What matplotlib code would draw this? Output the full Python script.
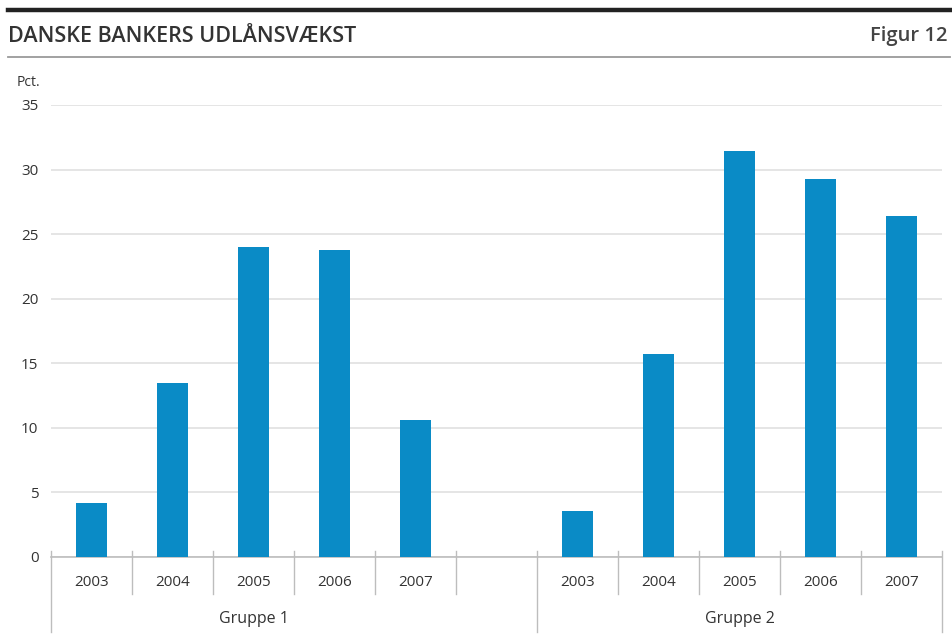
import matplotlib
matplotlib.use("Agg")
import matplotlib.pyplot as plt
from matplotlib.lines import Line2D
import matplotlib.transforms as mtransforms

plt.rcParams['font.family'] = ['Open Sans', 'DejaVu Sans']

title = "DANSKE BANKERS UDLÅNSVÆKST"
fig_label = "Figur 12"
unit_label = "Pct."
years = ["2003", "2004", "2005", "2006", "2007"]
groups = ["Gruppe 1", "Gruppe 2"]
gruppe1 = [4.2, 13.5, 24.0, 23.8, 10.6]
gruppe2 = [3.6, 15.7, 31.4, 29.3, 26.4]
yticks = [0, 5, 10, 15, 20, 25, 30, 35]

bar_color = "#0A8BC6"
grid_color = "#E3E3E3"
axis_color = "#BDBDBD"
text_color = "#333333"

W, H = 952, 636
fig = plt.figure(figsize=(W / 100, H / 100), dpi=100)

def fx(px):
    return px / W

def fy(py):
    return 1 - py / H

ax = fig.add_axes([fx(51), fy(557), fx(942) - fx(51), fy(105) - fy(557)])

# slot layout: group 1 (5 slots), empty slot, group 2 (5 slots)
n = len(years)
slots1 = list(range(n))
slots2 = [n + 1 + i for i in range(n)]
nslots = 2 * n + 1

ax.bar([s + 0.5 for s in slots1], gruppe1, width=0.39, color=bar_color, zorder=3)
ax.bar([s + 0.5 for s in slots2], gruppe2, width=0.39, color=bar_color, zorder=3)

ax.set_xlim(0, nslots)
ax.set_ylim(0, 35)
ax.set_yticks(yticks)
ax.set_yticklabels([str(v) for v in yticks], fontsize=11, color=text_color)
ax.tick_params(axis='y', length=0, pad=9)
ax.set_xticks([])
ax.yaxis.grid(True, color=grid_color, linewidth=1.3, zorder=0)
for s in ['top', 'right', 'left']:
    ax.spines[s].set_visible(False)
ax.spines['bottom'].set_color(axis_color)
ax.spines['bottom'].set_linewidth(1.2)

trans = mtransforms.blended_transform_factory(ax.transData, fig.transFigure)

# boundary ticks
boundaries = list(range(nslots + 1))
group_edges = [0, n + 1, nslots]
for b in boundaries:
    if b in group_edges:
        y0, y1 = fy(551), fy(632)
    else:
        y0, y1 = fy(551), fy(594)
    fig.add_artist(Line2D([b, b], [y0, y1], transform=trans, color=axis_color,
                          linewidth=1.0, clip_on=False))

for slots in (slots1, slots2):
    for s, yr in zip(slots, years):
        ax.text(s + 0.5, fy(583), yr, transform=trans, ha='center', va='center',
                fontsize=11, color=text_color)

ax.text((0 + n) / 2, fy(619), groups[0], transform=trans, ha='center', va='center',
        fontsize=11.5, color=text_color)
ax.text((n + 1 + nslots) / 2, fy(619), groups[1], transform=trans, ha='center', va='center',
        fontsize=11.5, color=text_color)

# header
fig.add_artist(Line2D([fx(8), fx(950)], [fy(10), fy(10)], color="#222222", linewidth=3.2))
fig.add_artist(Line2D([fx(8), fx(950)], [fy(57), fy(57)], color="#9A9A9A", linewidth=1.3))
fig.text(fx(8), fy(36), title, ha='left', va='center', fontsize=15.5,
         fontweight='semibold', color="#333333")
fig.text(fx(948), fy(36), fig_label, ha='right', va='center', fontsize=14.5,
         fontweight='semibold', color="#444444")
fig.text(fx(17), fy(83), unit_label, ha='left', va='center', fontsize=10, color=text_color)

fig.savefig("out.png", dpi=100)
